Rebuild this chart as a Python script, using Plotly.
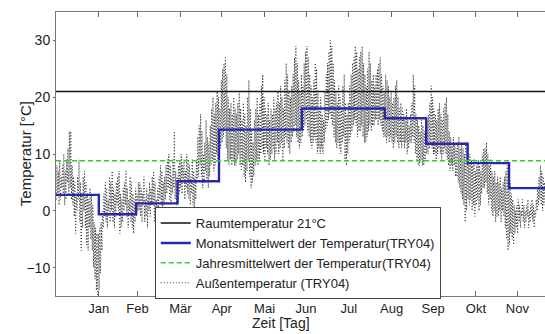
import plotly.graph_objects as go

# ---------------- data ----------------
month_ticks = [31, 59, 90, 120, 151, 181, 212, 243, 273, 304, 334]
month_labels = ["Jan", "Feb", "Mär", "Apr", "Mai", "Jun", "Jul", "Aug", "Sep", "Okt", "Nov"]

month_edges = [0, 31, 58, 88, 118, 148, 178, 208, 238, 268, 298, 328, 358]
monthly_mean = [2.8, -0.6, 1.3, 5.2, 14.3, 14.3, 18.0, 18.0, 16.3, 11.8, 8.4, 4.0]

room_temp = 21.0
annual_mean = 8.8

# daily maximum / minimum of the outdoor temperature (TRY04)
daily_max = [
    8, 7, 9, 6, 8, 10, 7, 9, 11, 14,
    14, 8, 6, 5, 3, 6, 9, 5, 3, 6,
    7, 5, 3, 2, 4, 3, 1, -2, -3, -4,
    -4, -3, -2, 0, 3, 5, 4, 2, 6, 5,
    7, 4, 3, 5, 6, 7, 3, 2, 4, 5,
    7, 4, 2, 6, 5, 3, 2, 4, 3, 5,
    5, 4, 3, 6, 2, 4, 3, 5, 4, 6,
    7, 5, 2, 4, 6, 8, 7, 5, 6, 8,
    9, 10, 8, 6, 9, 14, 7, 6, 8, 9,
    10, 8, 9, 7, 10, 9, 8, 6, 9, 7,
    6, 9, 13, 15, 17, 14, 10, 12, 16, 13,
    12, 15, 18, 20, 17, 19, 21, 20, 18, 23,
    25, 26, 27, 24, 20, 18, 19, 17, 20, 18,
    17, 19, 21, 18, 16, 19, 17, 15, 20, 23,
    18, 14, 12, 16, 18, 20, 17, 19, 22, 24,
    20, 18, 17, 19, 16, 18, 17, 20, 18, 19,
    21, 19, 22, 20, 18, 23, 26, 24, 21, 20,
    22, 24, 27, 29, 26, 23, 21, 24, 22, 26,
    28, 29, 27, 24, 22, 20, 23, 26, 25, 21,
    18, 20, 17, 16, 21, 24, 26, 28, 30, 29,
    26, 23, 21, 19, 22, 20, 18, 22, 24, 19,
    17, 19, 22, 24, 26, 27, 29, 28, 25, 27,
    28, 29, 26, 24, 22, 25, 28, 26, 23, 24,
    22, 24, 25, 26, 27, 24, 22, 21, 24, 23,
    22, 20, 21, 19, 20, 22, 23, 20, 18, 19,
    18, 17, 16, 18, 16, 15, 17, 19, 24, 22,
    17, 16, 15, 14, 16, 15, 14, 15, 16, 17,
    19, 22, 20, 18, 17, 16, 18, 19, 17, 16,
    18, 19, 20, 17, 14, 13, 12, 13, 12, 11,
    12, 13, 11, 12, 11, 10, 12, 11, 9, 10,
    9, 8, 9, 7, 8, 9, 8, 7, 10, 11,
    11, 12, 10, 8, 9, 7, 6, 7, 5, 6,
    5, 6, 4, 5, 6, 7, 8, 6, 5, 3,
    2, 1, 0, 1, 2, 1, 0, 2, 1, 0,
    1, 2, 0, 1, 2, 1, 0, 2, 4, 6,
    8, 7, 6, 5, 6,
]
daily_min = [
    2, 3, 1, 2, 4, 3, 1, 2, 5, 3,
    4, 2, 1, -1, -4, 0, 2, -2, -7, -3,
    0, -3, -6, -7, -3, -5, -7, -10, -12, -14,
    -15, -14, -11, -7, -3, -1, -2, -3, 0, -2,
    0, -2, -3, -1, 1, 0, -4, -3, -2, 0,
    1, -1, -3, 0, -2, -3, -4, -2, -1, 0,
    0, -1, -2, 1, -2, -1, -3, 0, -1, 1,
    1, -2, -4, -3, 0, 2, 1, 0, 1, 2,
    3, 4, 2, 1, 3, 4, 2, 1, 2, 3,
    4, 3, 5, 2, 4, 3, 2, 1, 3, 1,
    0, 2, 5, 6, 8, 6, 4, 5, 7, 5,
    4, 6, 8, 9, 7, 8, 10, 9, 8, 11,
    12, 13, 14, 11, 9, 8, 9, 8, 9, 8,
    8, 9, 10, 8, 7, 8, 6, 5, 7, 9,
    6, 4, 5, 6, 8, 9, 8, 9, 10, 11,
    10, 9, 11, 10, 8, 9, 10, 11, 9, 10,
    12, 10, 11, 12, 9, 11, 13, 12, 11, 10,
    12, 13, 14, 15, 13, 12, 11, 12, 13, 14,
    15, 16, 14, 13, 12, 11, 12, 13, 12, 10,
    11, 10, 11, 10, 12, 14, 15, 16, 17, 16,
    15, 13, 12, 11, 12, 11, 10, 12, 13, 9,
    8, 10, 12, 13, 14, 15, 16, 15, 13, 14,
    14, 15, 13, 12, 12, 13, 14, 15, 14, 15,
    15, 16, 16, 15, 16, 15, 14, 13, 13, 12,
    13, 12, 13, 12, 11, 12, 13, 12, 11, 12,
    11, 12, 11, 12, 10, 11, 12, 12, 13, 12,
    10, 9, 8, 8, 9, 8, 8, 9, 10, 10,
    11, 12, 11, 10, 10, 9, 10, 11, 10, 9,
    10, 11, 10, 9, 8, 7, 8, 7, 8, 6,
    6, 5, 4, 3, 2, 1, -2, 0, 2, 1,
    2, 0, 1, -1, 1, 2, 0, 1, 3, 4,
    4, 5, 3, 1, 2, 0, -1, 0, -2, -1,
    -1, 0, -2, 0, -1, -3, -5, -7, -6, -4,
    -5, -6, -4, -3, -4, -2, -3, -1, -2, -3,
    -2, -1, -3, -2, -1, -2, -3, -1, 0, 1,
    2, 1, 0, 1, 2,
]

# ---------------- build traces ----------------
out_x, out_y = [], []
for d, (lo, hi) in enumerate(zip(daily_min, daily_max)):
    out_x += [d + 0.25, d + 0.65]
    out_y += [lo, hi]

step_x = month_edges
step_y = monthly_mean + [monthly_mean[-1]]

FONT = "Liberation Sans, Arial, sans-serif"

fig = go.Figure()
fig.add_trace(go.Scatter(
    x=out_x, y=out_y, mode="lines", name="Außentemperatur (TRY04)",
    line=dict(color="#333333", width=1, dash="1px,2px"), legendrank=4))
fig.add_trace(go.Scatter(
    x=[0, 365], y=[room_temp, room_temp], mode="lines", name="Raumtemperatur 21°C",
    line=dict(color="#111111", width=1.5), legendrank=1))
fig.add_trace(go.Scatter(
    x=step_x, y=step_y, mode="lines", line_shape="hv",
    name="Monatsmittelwert der Temperatur(TRY04)",
    line=dict(color="#2828a8", width=2.4), legendrank=2))
fig.add_trace(go.Scatter(
    x=[0, 365], y=[annual_mean, annual_mean], mode="lines",
    name="Jahresmittelwert der Temperatur(TRY04)",
    line=dict(color="#33cc33", width=1.5, dash="5px,3px"), legendrank=3))

fig.update_layout(
    width=545, height=334,
    margin=dict(l=56, r=0, t=12, b=38),
    paper_bgcolor="white", plot_bgcolor="white",
    font=dict(family=FONT, size=13, color="#222222"),
    showlegend=True,
    legend=dict(
        x=0.202, y=0.313, xanchor="left", yanchor="top",
        bgcolor="white", bordercolor="#444444", borderwidth=1,
        font=dict(family=FONT, size=13, color="#222222"),
        itemwidth=30, tracegroupgap=0,
    ),
    xaxis=dict(
        range=[0, 354], tickmode="array", tickvals=month_ticks, ticktext=month_labels,
        ticks="inside", ticklen=5, tickcolor="#666666",
        showline=True, linecolor="#777777", linewidth=1, mirror="ticks",
        showgrid=False, zeroline=False,
        tickfont=dict(size=13),
    ),
    yaxis=dict(
        range=[-15, 35], tickmode="array", tickvals=[-10, 0, 10, 20, 30],
        ticks="outside", ticklen=2, tickcolor="#666666",
        showline=True, linecolor="#777777", linewidth=1, mirror=False,
        showgrid=False, zeroline=False,
        tickfont=dict(size=14),
    ),
    annotations=[
        dict(text="Zeit [Tag]", xref="paper", yref="paper", x=0.46, y=-0.095,
             xanchor="center", yanchor="middle", showarrow=False,
             font=dict(family=FONT, size=14, color="#222222")),
        dict(text="Temperatur [°C]", xref="paper", yref="paper", x=-0.063, y=0.5,
             xanchor="center", yanchor="middle", textangle=-90, showarrow=False,
             font=dict(family=FONT, size=15, color="#222222")),
    ],
)

fig.write_html("out.html", config={"displayModeBar": False},
               post_script="document.body.style.margin='0px';")
